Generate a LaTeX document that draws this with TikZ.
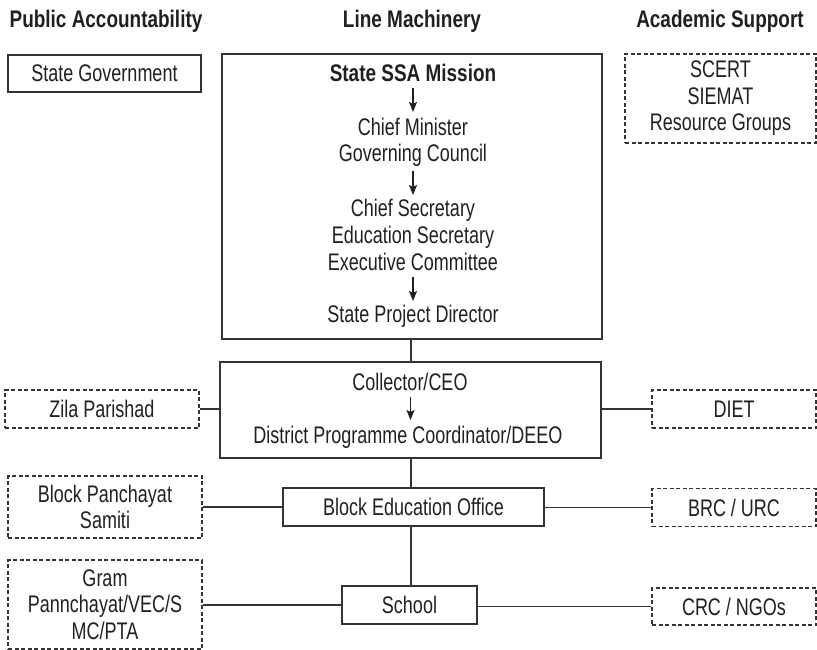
\documentclass[tikz,border=0pt]{standalone}
\usepackage{fontspec}
\setmainfont{Liberation Sans}[FakeStretch=0.75]
\newfontfamily\titlef{Liberation Sans}[FakeStretch=0.79]
\usetikzlibrary{arrows.meta}
\definecolor{txt}{HTML}{231F20}
\definecolor{ln}{HTML}{333333}
\begin{document}
\begin{tikzpicture}[x=1pt,y=-1pt,
  every node/.style={font=\fontsize{24}{26.5}\selectfont, text=txt},
  title/.style={font=\titlef\fontsize{24}{26.5}\selectfont\bfseries, anchor=base},
  line/.style={anchor=base, inner sep=0pt},
  solidbox/.style={draw=ln, line width=1.3pt, inner sep=0pt, align=center},
  dashbox/.style={draw=ln, line width=1.1pt, dash pattern=on 4pt off 2.5pt, inner sep=0pt, align=center},
  conn/.style={draw=ln, line width=1.3pt},
  arr/.style={draw=txt, line width=1.4pt, -{Stealth[length=10pt,width=8pt,inset=2pt]}}]
\useasboundingbox (0,0) rectangle (817,650);

% column titles
\node[title] (h1) at (106,28) {Public Accountability};
\node[title] (h2) at (412,28) {Line Machinery};
\node[title] (h3) at (720,28) {Academic Support};

% top row
\node[solidbox, minimum width=193pt, minimum height=37pt] (sg) at (104.5,73.5) {State Government};
\node[solidbox, minimum width=380pt, minimum height=285pt] (ssa) at (412,196.5) {};
\node[dashbox, minimum width=191pt, minimum height=89pt] (sc) at (720.5,98.5) {SCERT\\SIEMAT\\Resource Groups};

% contents of the State SSA Mission box
\node[line, font=\titlef\fontsize{24}{26.5}\selectfont\bfseries] (l1) at (413,82) {State SSA Mission};
\node[line] (l2) at (413,136) {Chief Minister};
\node[line] (l3) at (413,162) {Governing Council};
\node[line] (l4) at (413,216) {Chief Secretary};
\node[line] (l5) at (413,243) {Education Secretary};
\node[line] (l6) at (413,270) {Executive Committee};
\node[line] (l7) at (413,322) {State Project Director};
\draw[arr] ([yshift=-6pt]l1.base) -- ([yshift=24pt]l2.base);
\draw[arr] ([yshift=-9pt]l3.base) -- ([yshift=21pt]l4.base);
\draw[arr] ([yshift=-7pt]l6.base) -- ([yshift=21pt]l7.base);

% district row
\node[solidbox, minimum width=381pt, minimum height=96pt] (col) at (410.5,410) {};
\node[line] (c1) at (410,390) {Collector/CEO};
\node[line] (c2) at (408,443) {District Programme Coordinator/DEEO};
\draw[arr] ([yshift=-7pt]c1.base -| col.center) -- ([yshift=23pt]c2.base -| col.center);
\node[dashbox, minimum width=194pt, minimum height=38pt] (zila) at (102,409) {Zila Parishad};
\node[dashbox, minimum width=164pt, minimum height=38pt] (diet) at (734,409) {DIET};

% block row
\node[solidbox, minimum width=261pt, minimum height=38pt] (beo) at (413.5,507) {Block Education Office};
\node[dashbox, minimum width=194pt, minimum height=62pt] (bps) at (105,507) {Block Panchayat\\Samiti};
\node[dashbox, minimum width=164pt, minimum height=38pt] (brc) at (734,507.5) {BRC / URC};

% school row
\node[solidbox, minimum width=135pt, minimum height=38pt] (sch) at (409.5,605) {School};
\node[dashbox, minimum width=194pt, minimum height=89pt] (gram) at (105,604.5) {Gram\\Pannchayat/VEC/S\\MC/PTA};
\node[dashbox, minimum width=164pt, minimum height=37pt] (crc) at (734,606.5) {CRC / NGOs};

% vertical spine
\coordinate (spine) at (411,0);
\draw[conn] (ssa.south -| spine) -- (col.north -| spine);
\draw[conn] (col.south -| spine) -- (beo.north -| spine);
\draw[conn] (beo.south -| spine) -- (sch.north -| spine);

% horizontal links
\draw[conn] (zila.east) -- (col.west |- zila.east);
\draw[conn] (col.east |- diet.west) -- (diet.west);
\draw[conn] (bps.east) -- (beo.west |- bps.east);
\draw[conn] (beo.east |- brc.west) -- (brc.west);
\draw[conn] (gram.east |- sch.west) -- (sch.west);
\draw[conn] (sch.east |- crc.west) -- (crc.west);
\end{tikzpicture}
\end{document}
